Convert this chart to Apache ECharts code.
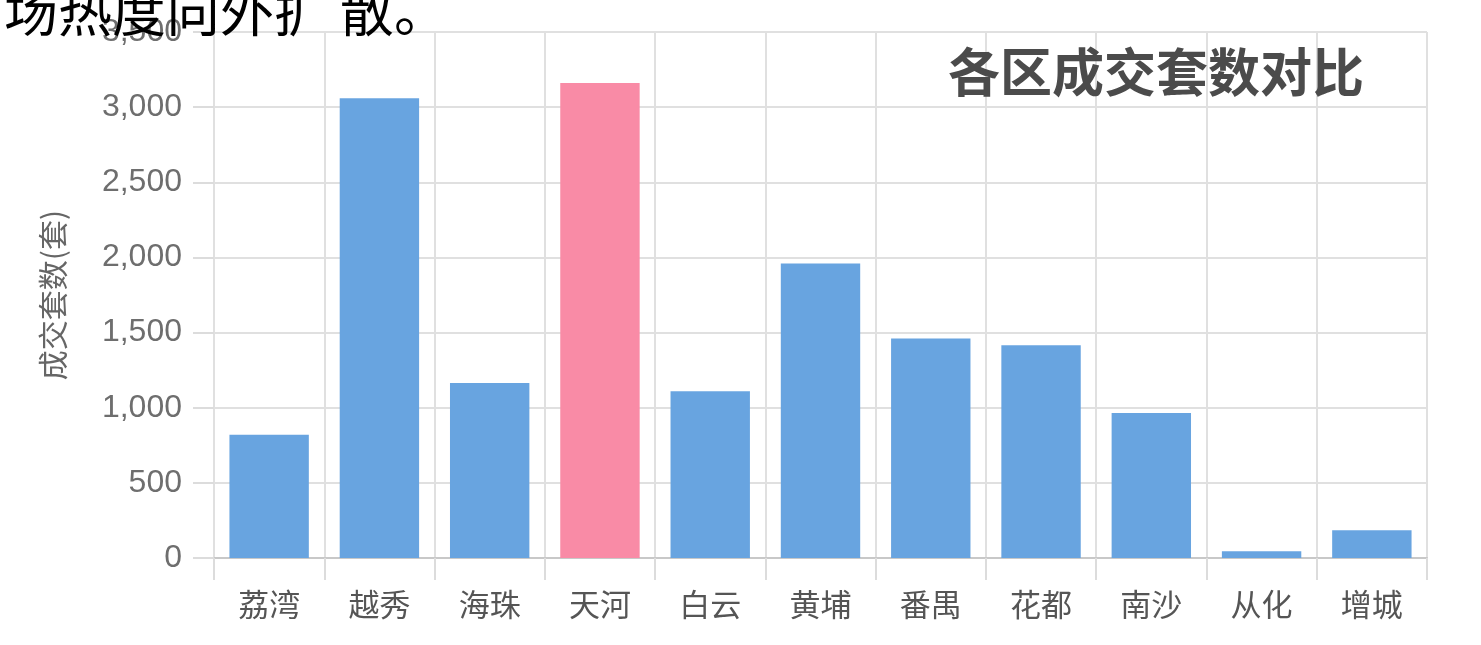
<!DOCTYPE html>
<html>
<head>
<meta charset="utf-8">
<script src="https://cdn.jsdelivr.net/npm/echarts@6/dist/echarts.min.js"></script>
<style>
  html, body { margin: 0; padding: 0; background: #fff; }
  #main { width: 1481px; height: 645px; }
</style>
</head>
<body>
<div id="main"></div>
<script>
// 各区名称
const districts = ['荔湾', '越秀', '海珠', '天河', '白云', '黄埔', '番禺', '花都', '南沙', '从化', '增城'];
// 成交套数
const deals = [820, 3060, 1165, 3160, 1110, 1960, 1460, 1415, 965, 45, 185];
// 高亮的区
const highlight = '天河';
const yTicks = [0, 500, 1000, 1500, 2000, 2500, 3000, 3500];

const blue = '#68a4e0';
const pink = '#f98ba6';
const font = '"Liberation Sans", "Noto Sans CJK SC", sans-serif';
const cjk = '"Noto Sans CJK SC", sans-serif';

const myChart = echarts.init(document.getElementById('main'));
const option = {
    animation: false,
    textStyle: { fontFamily: font },
    title: {
        text: '各区成交套数对比',
        right: 112,
        top: 41,
        textStyle: {
            fontSize: 52,
            fontWeight: 'bold',
            color: '#4b4b4b',
            fontFamily: cjk
        }
    },
    // 上一段正文被截掉的最后一行
    graphic: [{
        type: 'text',
        left: 4,
        top: -16,
        z: 100,
        style: {
            text: '场热度向外扩 散。',
            fill: '#000',
            font: '54px "Noto Sans CJK SC", sans-serif'
        }
    }],
    grid: {
        left: 214,
        right: 54,
        top: 32,
        bottom: 87,
        containLabel: false
    },
    xAxis: {
        type: 'category',
        data: districts,
        boundaryGap: true,
        axisLine: { show: true, lineStyle: { color: '#c8c8c8', width: 2 } },
        axisTick: { show: true, length: 22, lineStyle: { color: '#dcdcdc', width: 2 } },
        splitLine: { show: true, lineStyle: { color: '#e0e0e0', width: 2 } },
        axisLabel: {
            margin: 31,
            fontSize: 31,
            color: '#555',
            fontFamily: cjk
        }
    },
    yAxis: {
        type: 'value',
        min: yTicks[0],
        max: yTicks[yTicks.length - 1],
        interval: 500,
        name: '成交套数(套)',
        nameLocation: 'middle',
        nameGap: 146,
        nameTextStyle: {
            fontSize: 30,
            color: '#666',
            fontFamily: cjk
        },
        axisLine: { show: false },
        axisTick: { show: true, length: 21, lineStyle: { color: '#dcdcdc', width: 2 } },
        splitLine: { show: true, lineStyle: { color: '#e0e0e0', width: 2 } },
        axisLabel: {
            margin: 32,
            fontSize: 32,
            color: '#6e6e6e',
            formatter: v => v.toLocaleString('en-US')
        }
    },
    series: [{
        type: 'bar',
        barWidth: '72%',
        data: deals.map((v, i) => ({
            value: v,
            itemStyle: { color: districts[i] === highlight ? pink : blue }
        }))
    }]
};
myChart.setOption(option);
</script>
</body>
</html>
